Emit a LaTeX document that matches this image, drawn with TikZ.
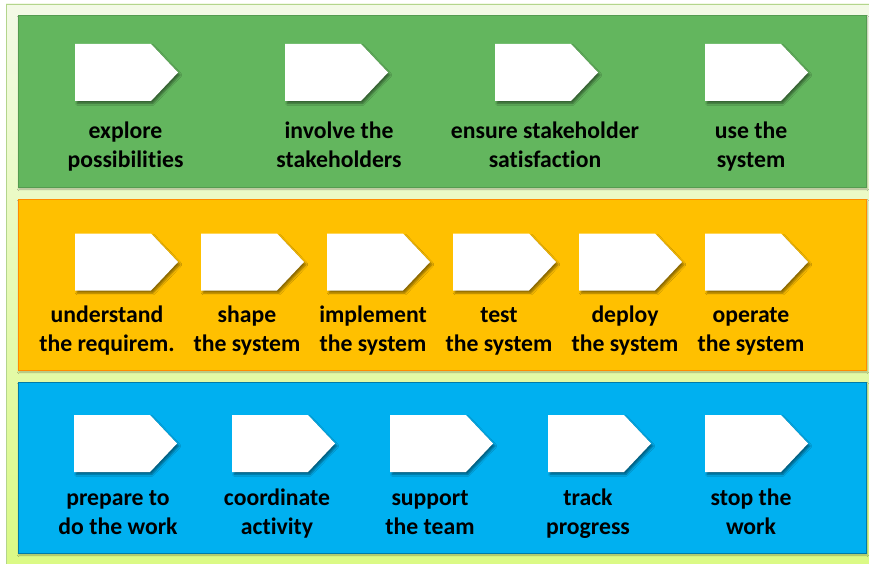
\documentclass[tikz,border=0pt]{standalone}
\usepackage{fontspec}
\setmainfont[Ligatures=NoCommon]{Carlito}
\usepackage{tikz}
\usetikzlibrary{shadows.blur}
\definecolor{bggreen}{HTML}{EEF7DC}
\definecolor{frame}{HTML}{B3D58C}
\definecolor{bandG}{HTML}{63B65E}
\definecolor{bandY}{HTML}{FFC000}
\definecolor{bandB}{HTML}{00B0F0}
\tikzset{band/.style={blur shadow={shadow xshift=1pt,shadow yshift=-2pt,shadow opacity=30,shadow blur steps=4}},
  arrowbox/.style={fill=white,blur shadow={shadow xshift=2pt,shadow yshift=-2.5pt,shadow opacity=45,shadow blur steps=5}},
  lbl/.style={font=\fontsize{23.7}{29}\selectfont\bfseries,align=center,inner sep=0pt,anchor=base}}

\begin{document}
\begin{tikzpicture}[x=1pt,y=-1pt]
    \useasboundingbox (0,0) rectangle (869,564);
    \draw[frame,top color=bggreen!70!white,bottom color=bggreen!85!green!70!yellow] (6,4) rectangle (880,575);
    \filldraw[band,fill=bandG,draw=bandG!85!black] (18,15) rectangle (866,187);
    \filldraw[band,fill=bandY,draw=orange!80!bandY] (18,199) rectangle (866,370);
    \filldraw[band,fill=bandB,draw=bandB!70!black] (18,382) rectangle (866,553);
    % green band
    \foreach \x/\tx/\t [count=\i] in {75/125.5/{explore\\possibilities},285/339/{involve the\\stakeholders},
      495/545/{ensure stakeholder\\satisfaction},705/751/{use the\\system}}{
      \path[arrowbox] (\x,44) -- ++(76,0) -- ++(27,28.5) -- ++(-27,28.5) -- ++(-76,0) -- cycle;
      \node[lbl] (G\i) at (\tx,167.5) {\t};}
    % yellow band
    \foreach \x/\tx/\t [count=\i] in {75/107/{understand\\the requirem.},201/247/{shape\\the system},
      327/373/{implement\\the system},453/499/{test\\the system},579/625/{deploy\\the system},705/751/{operate\\the system}}{
      \path[arrowbox] (\x,233.5) -- ++(76,0) -- ++(27,28.5) -- ++(-27,28.5) -- ++(-76,0) -- cycle;
      \node[lbl] (Y\i) at (\tx,351) {\t};}
    % blue band
    \foreach \x/\tx/\t [count=\i] in {74/118/{prepare to\\do the work},232/277/{coordinate\\activity},
      390/430/{support\\the team},548/588/{track\\progress},705/751/{stop the\\work}}{
      \path[arrowbox] (\x,415) -- ++(76,0) -- ++(27,28.5) -- ++(-27,28.5) -- ++(-76,0) -- cycle;
      \node[lbl] (B\i) at (\tx,534.5) {\t};}
\end{tikzpicture}
\end{document}
